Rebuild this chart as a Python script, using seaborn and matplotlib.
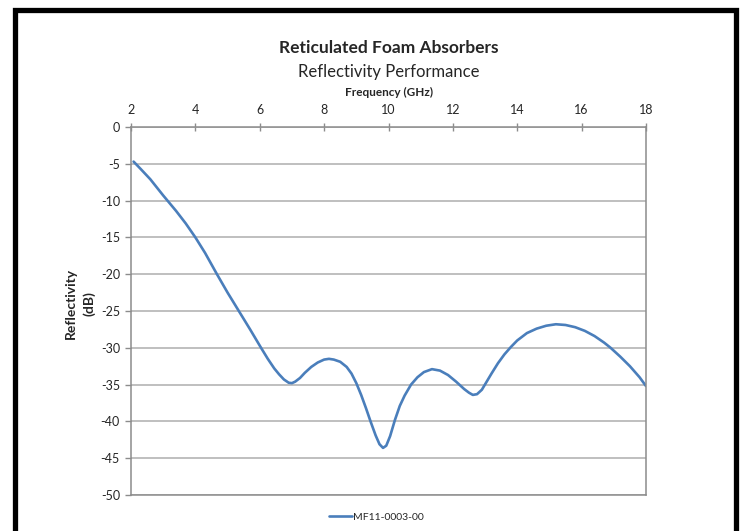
import seaborn as sns
import matplotlib.pyplot as plt
import matplotlib.patches as patches
import pandas as pd

# values
freq_ghz = [2.08, 2.3, 2.6, 3.0, 3.4, 3.7, 4.0, 4.3, 4.67, 5.0, 5.35, 5.7, 6.04, 6.25,
            6.45, 6.6, 6.75, 6.9, 7.0, 7.1, 7.25, 7.4, 7.6, 7.8, 8.0, 8.15, 8.3, 8.5,
            8.7, 8.85, 9.0, 9.15, 9.3, 9.45, 9.6, 9.72, 9.83, 9.93, 10.05, 10.2,
            10.35, 10.5, 10.7, 10.9, 11.1, 11.35, 11.6, 11.85, 12.1, 12.35, 12.5,
            12.62, 12.75, 12.9, 13.05, 13.2, 13.4, 13.6, 13.8, 14.0, 14.3, 14.6,
            14.9, 15.2, 15.5, 15.8, 16.1, 16.4, 16.7, 16.9, 17.2, 17.5, 17.8, 18.0]
reflectivity_db = [-4.7, -5.7, -7.1, -9.3, -11.4, -13.1, -15.0, -17.1, -20.0, -22.5,
                   -25.0, -27.5, -30.0, -31.5, -32.8, -33.6, -34.3, -34.75, -34.8,
                   -34.6, -34.1, -33.4, -32.6, -32.0, -31.6, -31.5, -31.6, -31.9,
                   -32.6, -33.5, -34.8, -36.4, -38.2, -40.1, -41.9, -43.1, -43.6,
                   -43.3, -42.0, -39.8, -37.9, -36.5, -35.0, -34.0, -33.3, -32.9,
                   -33.1, -33.7, -34.6, -35.6, -36.1, -36.4, -36.3, -35.7, -34.6,
                   -33.5, -32.1, -30.9, -29.9, -29.0, -28.0, -27.4, -27.0, -26.8,
                   -26.9, -27.2, -27.7, -28.4, -29.3, -30.0, -31.2, -32.5, -34.0,
                   -35.2]
series_name = "MF11-0003-00"
x_ticks = [2, 4, 6, 8, 10, 12, 14, 16, 18]
y_ticks = [0, -5, -10, -15, -20, -25, -30, -35, -40, -45, -50]

df = pd.DataFrame({"freq": freq_ghz, "refl": reflectivity_db, "series": series_name})

sns.set_theme(style="white")
plt.rcParams['font.family'] = ['Lato', 'DejaVu Sans']
plt.rcParams['axes.unicode_minus'] = False

fig = plt.figure(figsize=(7.41, 5.31), dpi=100)
ax = fig.add_axes([0.1768, 0.0678, 0.695, 0.693])

sns.lineplot(data=df, x="freq", y="refl", hue="series", palette=["#4a7ebb"],
             linewidth=1.9, ax=ax, legend=False, sort=False)

ax.set_xlim(2, 18)
ax.set_ylim(-50, 0)
ax.set_xticks(x_ticks)
ax.set_yticks(y_ticks)
ax.yaxis.grid(True, color="#b4b4b4", linewidth=1.2)
ax.xaxis.grid(False)
for s in ax.spines.values():
    s.set_visible(True)
    s.set_color("#8c8c8c")
    s.set_linewidth(1.1)

ax.xaxis.tick_top()
ax.xaxis.set_label_position("top")
ax.tick_params(axis="x", direction="inout", length=6, width=1, color="#8c8c8c",
               labelsize=9, pad=5, bottom=False, top=True)
ax.tick_params(axis="y", direction="out", length=4, width=1, color="#8c8c8c",
               labelsize=9, pad=4, left=True)
ax.set_xlabel("Frequency (GHz)", fontsize=8.5, fontweight="bold", labelpad=6)
ax.set_ylabel("Reflectivity\n(dB)", fontsize=10, fontweight="bold",
              linespacing=1.55)
ax.yaxis.set_label_coords(-0.069, 0.52)

fig.text(0.525, 0.909, "Reticulated Foam Absorbers", ha="center", va="center",
         fontsize=12.5, fontweight="bold")
fig.text(0.525, 0.864, "Reflectivity Performance", ha="center", va="center",
         fontsize=12)

handle = plt.Line2D([], [], color="#4a7ebb", linewidth=1.9)
fig.legend([handle], [series_name], loc="center", bbox_to_anchor=(0.508, 0.026),
           frameon=False, fontsize=7.5, handlelength=2.2, handletextpad=0.1)

# black frame round the chart, bottom edge runs off the picture
frame = patches.Rectangle((0.0196, -0.2), 0.9737, 1.182, transform=fig.transFigure,
                          fill=False, edgecolor="black", linewidth=3.8, clip_on=False)
fig.add_artist(frame)

fig.savefig("out.png", dpi=100)
